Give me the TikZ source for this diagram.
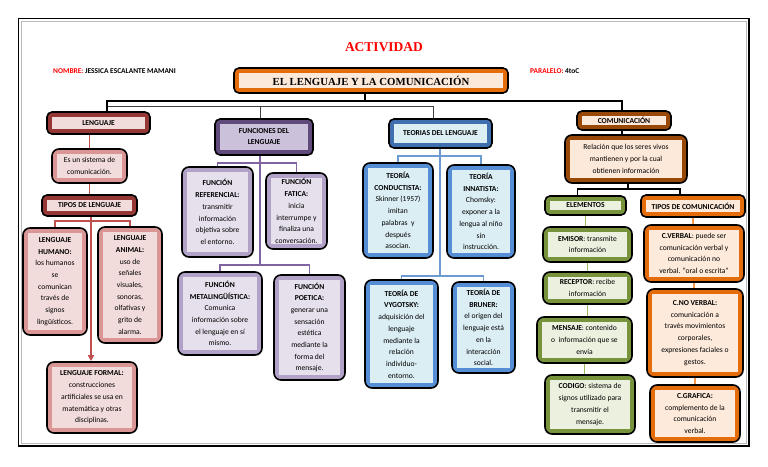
\documentclass[tikz,border=0pt]{standalone}
\usepackage{fontspec}
\setmainfont{Carlito}
\newfontfamily\titlefont{Liberation Serif}
\usetikzlibrary{arrows.meta,positioning,calc}
\definecolor{lengDark}{HTML}{953735}
\definecolor{lengRose}{HTML}{D99694}
\definecolor{lengPale}{HTML}{F2DCDB}
\definecolor{lengLine}{HTML}{C0504D}
\definecolor{funcDark}{HTML}{604A7B}
\definecolor{funcLav}{HTML}{B3A2C7}
\definecolor{funcMid}{HTML}{CCC1DA}
\definecolor{funcPale}{HTML}{E6E0EC}
\definecolor{funcLine}{HTML}{8064A2}
\definecolor{teoDark}{HTML}{3F6FAF}
\definecolor{teoBlue}{HTML}{558ED5}
\definecolor{teoPale}{HTML}{DBEEF4}
\definecolor{teoLine}{HTML}{6C9BD2}
\definecolor{comBrown}{HTML}{984807}
\definecolor{comPale}{HTML}{FDE9D9}
\definecolor{eleGreen}{HTML}{77933C}
\definecolor{elePale}{HTML}{EBF1DE}
\definecolor{eleLine}{HTML}{9BBB59}
\definecolor{tipOrange}{HTML}{E46C0A}
\definecolor{tipPale}{HTML}{FDEADA}
\definecolor{tipLine}{HTML}{F79646}
\definecolor{redLabel}{HTML}{FF0000}

\begin{document}
\begin{tikzpicture}[x=1pt,y=-1pt,
  mapbox/.style 2 args={draw=black, line width=1.6pt, rounded corners=7pt,
    fill=#1, inner sep=0pt, align=center,
    font=\fontsize{7.6}{11.7}\selectfont,
    path picture={\fill[#2, sharp corners]
      ([xshift=5pt,yshift=5pt]path picture bounding box.south west) rectangle
      ([xshift=-5pt,yshift=-5pt]path picture bounding box.north east);}},
  headbox/.style 2 args={mapbox={#1}{#2}, rounded corners=5pt,
    font=\bfseries\fontsize{7.6}{11}\selectfont},
  wh/.style 2 args={minimum width=#1pt, minimum height=#2pt},
  link/.style={line width=1.8pt},
  trunk/.style={black, line width=1.2pt},
  trunkshade/.style={black!75, line width=1pt}]
  \useasboundingbox (0,0) rectangle (768,466);

  % marco
  \draw[line width=1.6pt] (18.5,18.5) rectangle (749,446);
  \draw[gray!55, line width=1pt] (21,21) rectangle (746.5,443.5);

  % encabezado
  \node[text=redLabel, font=\titlefont\bfseries\fontsize{13.5}{14}\selectfont]
    (actividad) at (384,47) {ACTIVIDAD};
  \node[anchor=west, inner sep=0pt, font=\bfseries\fontsize{7.4}{9}\selectfont]
    (nombre) at (53,71) {\textcolor{redLabel}{NOMBRE:} JESSICA ESCALANTE MAMANI};
  \node[anchor=west, inner sep=0pt, font=\bfseries\fontsize{7.4}{9}\selectfont]
    (paralelo) at (530,71) {\textcolor{redLabel}{PARALELO:} 4toC};

  \node[mapbox={tipOrange}{comPale}, wh={274}{25}, rounded corners=5pt,
    font=\titlefont\bfseries\fontsize{10.8}{12}\selectfont]
    (tema) at (371,80.5) {EL LENGUAJE Y LA COMUNICACIÓN};

  % ramas principales
  \node[headbox={lengDark}{lengPale}, wh={103}{22}] (lenguaje) at (98.5,123) {LENGUAJE};
  \node[headbox={funcDark}{funcMid}, wh={98}{36}] (funciones) at (264,137)
    {FUNCIONES DEL\\LENGUAJE};
  \node[headbox={teoDark}{teoPale}, wh={103}{29}] (teorias) at (440.5,133.5)
    {TEORIAS DEL LENGUAJE};
  \node[headbox={comBrown}{comPale}, wh={94}{19}] (comunic) at (624,120.5) {COMUNICACIÓN};

  % LENGUAJE
  \node[mapbox={lengRose}{lengPale}, wh={75}{34}] (sistema) at (89.5,166)
    {Es un sistema de\\comunicación.};
  \node[headbox={lengDark}{lengPale}, wh={95}{21}] (tiposl) at (89.5,205.5)
    {TIPOS DE LENGUAJE};
  \node[mapbox={lengRose}{lengPale}, wh={64}{107}] (humano) at (55,281.5)
    {\textbf{LENGUAJE}\\\textbf{HUMANO:}\\los humanos\\se\\comunican\\través de\\signos\\lingüísticos.};
  \node[mapbox={lengRose}{lengPale}, wh={64}{116}] (animal) at (130,285)
    {\textbf{LENGUAJE}\\\textbf{ANIMAL:}\\uso de\\señales\\visuales,\\sonoras,\\olfativas y\\grito de\\alarma.};
  \node[mapbox={lengRose}{lengPale}, wh={90}{71}] (formal) at (92,397.5)
    {\textbf{LENGUAJE FORMAL:}\\construcciones\\artificiales se usa en\\matemática y otras\\disciplinas.};

  % FUNCIONES
  \node[mapbox={funcLav}{funcPale}, wh={71}{90}] (referencial) at (217.5,212)
    {\textbf{FUNCIÓN}\\\textbf{REFERENCIAL:}\\transmitir\\información\\objetiva sobre\\el entorno.};
  \node[mapbox={funcLav}{funcPale}, wh={61}{76}] (fatica) at (296.5,211)
    {\textbf{FUNCIÓN}\\\textbf{FATICA:}\\inicia\\interrumpe y\\finaliza una\\conversación.};
  \node[mapbox={funcLav}{funcPale}, wh={84}{83}] (metaling) at (220,313.5)
    {\textbf{FUNCIÓN}\\\textbf{METALINGÜÍSTICA:}\\Comunica\\información sobre\\el lenguaje en sí\\mismo.};
  \node[mapbox={funcLav}{funcPale}, wh={71}{105}] (poetica) at (309.5,327.5)
    {\textbf{FUNCIÓN}\\\textbf{POETICA:}\\generar una\\sensación\\estética\\mediante la\\forma del\\mensaje.};

  % TEORIAS
  \node[mapbox={teoBlue}{teoPale}, wh={70}{95}] (conductista) at (398,210.5)
    {\textbf{TEORÍA}\\\textbf{CONDUCTISTA:}\\Skinner (1957)\\imitan\\palabras~ y\\después\\asocian.};
  \node[mapbox={teoBlue}{teoPale}, wh={68}{93}] (innatista) at (481,211.5)
    {\textbf{TEORÍA}\\\textbf{INNATISTA:}\\Chomsky:\\exponer a la\\lengua al niño\\sin\\instrucción.};
  \node[mapbox={teoBlue}{teoPale}, wh={73}{108}] (vygotsky) at (401.5,334)
    {\textbf{TEORÍA DE}\\\textbf{VYGOTSKY:}\\adquisición del\\lenguaje\\mediante la\\relación\\individuo-\\entorno.};
  \node[mapbox={teoBlue}{teoPale}, wh={63}{91}] (bruner) at (483.5,327.5)
    {\textbf{TEORÍA DE}\\\textbf{BRUNER:}\\el origen del\\lenguaje está\\en la\\interacción\\social.};

  % COMUNICACION
  \node[mapbox={comBrown}{comPale}, wh={122}{48}] (relacion) at (626,159)
    {Relación que los seres vivos\\mantienen y por la cual\\obtienen información};
  \node[headbox={eleGreen}{elePale}, wh={81}{19}] (elementos) at (585.5,205.5) {ELEMENTOS};
  \node[headbox={tipOrange}{tipPale}, wh={104}{22}] (tiposc) at (693,206)
    {TIPOS DE COMUNICACIÓN};
  \node[mapbox={eleGreen}{elePale}, wh={89}{35}] (emisor) at (587.5,244.5)
    {\textbf{EMISOR}: transmite\\información};
  \node[mapbox={eleGreen}{elePale}, wh={89}{32}] (receptor) at (587.5,288)
    {\textbf{RECEPTOR}: recibe\\información};
  \node[mapbox={eleGreen}{elePale}, wh={95}{46}] (mensaje) at (584.5,340)
    {\textbf{MENSAJE}: contenido\\o~ información que se\\envía};
  \node[mapbox={eleGreen}{elePale}, wh={90}{59}] (codigo) at (590,404.5)
    {\textbf{CODIGO}: sistema de\\signos utilizado para\\transmitir el\\mensaje.};
  \node[mapbox={tipOrange}{tipPale}, wh={100}{57}] (cverbal) at (694,253.5)
    {\textbf{C.VERBAL}: puede ser\\comunicación verbal y\\comunicación no\\verbal. “oral o escrita”};
  \node[mapbox={tipOrange}{tipPale}, wh={96}{88}] (cnoverbal) at (695,333)
    {\textbf{C.NO VERBAL:}\\comunicación a\\través movimientos\\corporales,\\expresiones faciales o\\gestos.};
  \node[mapbox={tipOrange}{tipPale}, wh={90}{57}] (cgrafica) at (695,413.5)
    {\textbf{C.GRAFICA:}\\complemento de la\\comunicación\\verbal.};

  % tronco principal
  \coordinate (hubA) at (365,101);
  \coordinate (hubB) at (108,106);
  \draw[trunk] (tema.south -| hubA) -- (hubA);
  \draw[trunk] ([xshift=8.5pt]lenguaje.north) |- (hubA) -| ([xshift=-2pt]comunic.north);
  \draw[trunkshade] (hubB) -| ([xshift=-4pt]funciones.north);
  \draw[trunkshade] (hubB) -| ([xshift=-7pt]teorias.north);

  % conectores LENGUAJE
  \coordinate (bkLeng) at (91,221);
  \draw[link, lengLine] (lenguaje.south -| sistema.north) -- (sistema.north);
  \draw[link, lengLine] (sistema.south) -- (sistema.south |- tiposl.north);
  \draw[link, lengLine, -{Triangle[length=6pt,width=6pt]}]
    (tiposl.south -| bkLeng) -- (formal.north -| bkLeng);
  \draw[link, lengLine] (humano.north) |- (bkLeng) -| (animal.north);

  % conectores FUNCIONES
  \coordinate (bkFun1) at (260,163);
  \coordinate (bkFun2) at (260,265);
  \draw[link, funcLine] (funciones.south -| bkFun1) -- (bkFun2);
  \draw[link, funcLine] (referencial.north) |- (bkFun1) -| (fatica.north);
  \draw[link, funcLine] (metaling.north) |- (bkFun2) -| (poetica.north);

  % conectores TEORIAS
  \coordinate (bkTeo1) at (440,156);
  \coordinate (bkTeo2) at (440,276);
  \draw[link, teoLine] (teorias.south -| bkTeo1) -- (bkTeo2);
  \draw[link, teoLine] (conductista.north) |- (bkTeo1) -| (innatista.north);
  \draw[link, teoLine] (vygotsky.north) |- (bkTeo2) -| (bruner.north);

  % conectores COMUNICACION
  \coordinate (bkCom) at (628,189);
  \draw[trunk] ([xshift=-2pt]comunic.south) -- ([xshift=-2pt]comunic.south |- relacion.north);
  \draw[trunk] (relacion.south -| bkCom) -- (bkCom);
  \draw[trunk] ([xshift=-8pt]elementos.north) |- (bkCom) -| ([xshift=-13pt]tiposc.north);
  \draw[link, eleLine] (elementos.south) -- (elementos.south |- emisor.north);
  \draw[link, eleLine] (emisor.south) -- (emisor.south |- receptor.north);
  \draw[link, eleLine] (receptor.south) -- (receptor.south |- mensaje.north);
  \draw[link, eleLine] (mensaje.south) -- (mensaje.south |- codigo.north);
  \draw[link, tipLine] (tiposc.south) -- (tiposc.south |- cverbal.north);
  \draw[link, tipLine] (cverbal.south) -- (cverbal.south |- cnoverbal.north);
  \draw[link, tipLine] (cnoverbal.south) -- (cnoverbal.south |- cgrafica.north);
\end{tikzpicture}
\end{document}
